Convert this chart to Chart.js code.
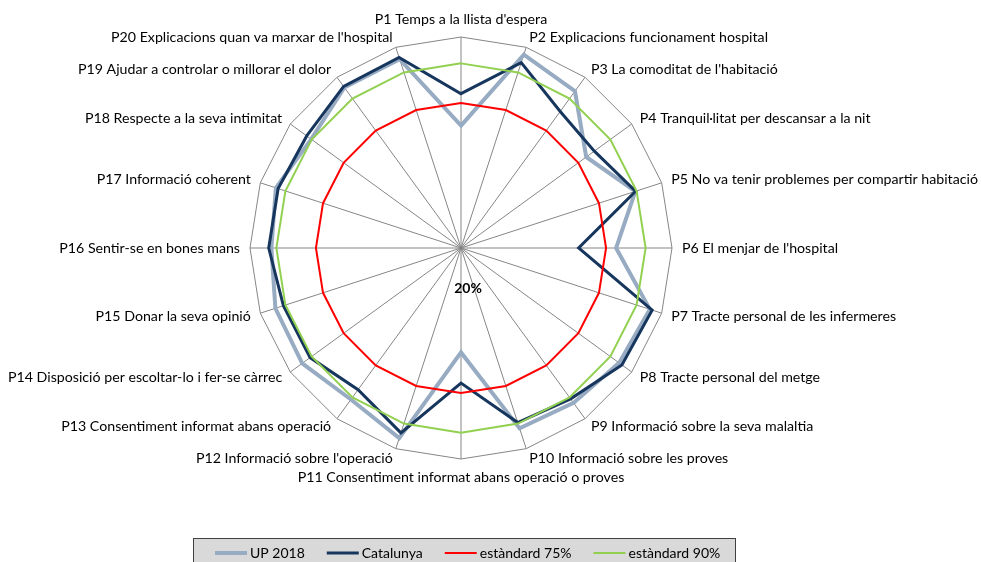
<!DOCTYPE html>
<html>
<head>
<meta charset="utf-8">
<title>Radar UP 2018</title>
<script src="https://cdn.jsdelivr.net/npm/chart.js@4.4.1/dist/chart.umd.min.js"></script>
<style>
  html, body { margin: 0; padding: 0; background: #fff; }
  #wrap { width: 981px; height: 562px; position: relative; }
</style>
</head>
<body>
<div id="wrap"><canvas id="myChart"></canvas></div>
<script>
// categories (clockwise from the top)
const categories = [
  "P1 Temps a la llista d'espera",
  "P2 Explicacions funcionament hospital",
  "P3 La comoditat de l'habitació",
  "P4 Tranquil·litat per descansar a la nit",
  "P5 No va tenir problemes per compartir habitació",
  "P6 El menjar de l'hospital",
  "P7 Tracte personal de les infermeres",
  "P8 Tracte personal del metge",
  "P9 Informació sobre la seva malaltia",
  "P10 Informació sobre les proves",
  "P11 Consentiment informat abans operació o proves",
  "P12 Informació sobre l'operació",
  "P13 Consentiment informat abans operació",
  "P14 Disposició per escoltar-lo i fer-se càrrec",
  "P15 Donar la seva opinió",
  "P16 Sentir-se en bones mans",
  "P17 Informació coherent",
  "P18 Respecte a la seva intimitat",
  "P19 Ajudar a controlar o millorar el dolor",
  "P20 Explicacions quan va marxar de l'hospital"
]

// values in %
const up2018    = [66.4, 97.1, 93.5, 78.7, 89.5, 78.8, 95.3, 94.1, 92.6, 91.9, 59.6, 95.8, 91.0, 94.4, 94.0, 91.9, 93.8, 90.2, 95.2, 95.3]
const catalunya = [78.5, 93.9, 84.0, 82.5, 89.6, 64.6, 96.2, 95.4, 90.7, 89.6, 71.2, 93.7, 86.4, 90.7, 90.8, 92.9, 92.9, 92.3, 95.7, 96.0]
const std75 = [75, 75, 75, 75, 75, 75, 75, 75, 75, 75, 75, 75, 75, 75, 75, 75, 75, 75, 75, 75]
const std90 = [90, 90, 90, 90, 90, 90, 90, 90, 90, 90, 90, 90, 90, 90, 90, 90, 90, 90, 90, 90]

const scaleMin = 20
const scaleMax = 100
const centerLabel = '20%'

const FONT = "Lato, 'Open Sans', sans-serif"

// axis texts round the polygon, placed like Excel does
const axisText = {
  id: 'axisText',
  afterDraw(chart) {
    const scale = chart.scales.r
    const ctx = chart.ctx
    const n = chart.data.labels.length
    ctx.save()
    ctx.font = '14.2px ' + FONT
    ctx.fillStyle = '#000'
    ctx.textBaseline = 'middle'
    chart.data.labels.forEach((txt, i) => {
      const deg = Math.round(i * 360 / n) % 360
      let extra = (deg === 0 || deg === 180) ? 8 : 0
      const p = scale.getPointPosition(i, scale.drawingArea + 10 + extra)
      if (deg === 0 || deg === 180) ctx.textAlign = 'center'
      else if (deg < 180) ctx.textAlign = 'left'
      else ctx.textAlign = 'right'
      ctx.fillText(txt, p.x, p.y)
    })
    // min value label
    const c = scale.getPointPosition(10, 0)
    ctx.font = 'bold 14px ' + FONT
    ctx.textAlign = 'center'
    ctx.fillText(centerLabel, c.x + 7, c.y + 40)
    ctx.restore()
  }
}

// boxed legend under the chart
const boxLegend = {
  id: 'boxLegend',
  afterDraw(chart) {
    const ctx = chart.ctx
    ctx.save()
    ctx.fillStyle = '#d9d9d9'
    ctx.fillRect(193.5, 538.5, 542, 30)
    ctx.strokeStyle = '#404040'
    ctx.lineWidth = 1
    ctx.strokeRect(193.5, 538.5, 542, 30)
    ctx.font = '14px ' + FONT
    ctx.textBaseline = 'middle'
    ctx.textAlign = 'left'
    let x = 215
    const y = 553
    chart.data.datasets.forEach(ds => {
      ctx.strokeStyle = ds.borderColor
      ctx.lineWidth = ds.borderWidth
      ctx.beginPath()
      ctx.moveTo(x, y)
      ctx.lineTo(x + 32, y)
      ctx.stroke()
      x += 35
      ctx.fillStyle = '#000'
      ctx.fillText(ds.label, x, y)
      x += ctx.measureText(ds.label).width + 22
    })
    ctx.restore()
  }
}

const ctx = document.getElementById('myChart').getContext('2d')

const myChart = new Chart(ctx, {
  type: 'radar',
  data: {
    labels: categories,
    datasets: [
      { label: 'UP 2018', data: up2018, borderColor: '#97abc2', borderWidth: 4, order: 4 },
      { label: 'Catalunya', data: catalunya, borderColor: '#17365d', borderWidth: 3, order: 3 },
      { label: 'estàndard 75%', data: std75, borderColor: '#ff0000', borderWidth: 2, order: 2 },
      { label: 'estàndard 90%', data: std90, borderColor: '#92d050', borderWidth: 2, order: 1 }
    ]
  },
  options: {
    responsive: true,
    maintainAspectRatio: false,
    animation: false,
    layout: { padding: { left: 250, right: 309, top: 37, bottom: 103 } },
    elements: {
      line: { tension: 0, fill: false, borderJoinStyle: 'miter' },
      point: { radius: 0, hoverRadius: 0 }
    },
    scales: {
      r: {
        min: scaleMin,
        max: scaleMax,
        ticks: { display: false, stepSize: 80 },
        grid: { color: '#868686', lineWidth: 1 },
        angleLines: { color: '#868686', lineWidth: 1 },
        pointLabels: { display: false }
      }
    },
    plugins: {
      legend: { display: false },
      tooltip: { enabled: false }
    }
  },
  plugins: [axisText, boxLegend]
})
</script>
</body>
</html>
